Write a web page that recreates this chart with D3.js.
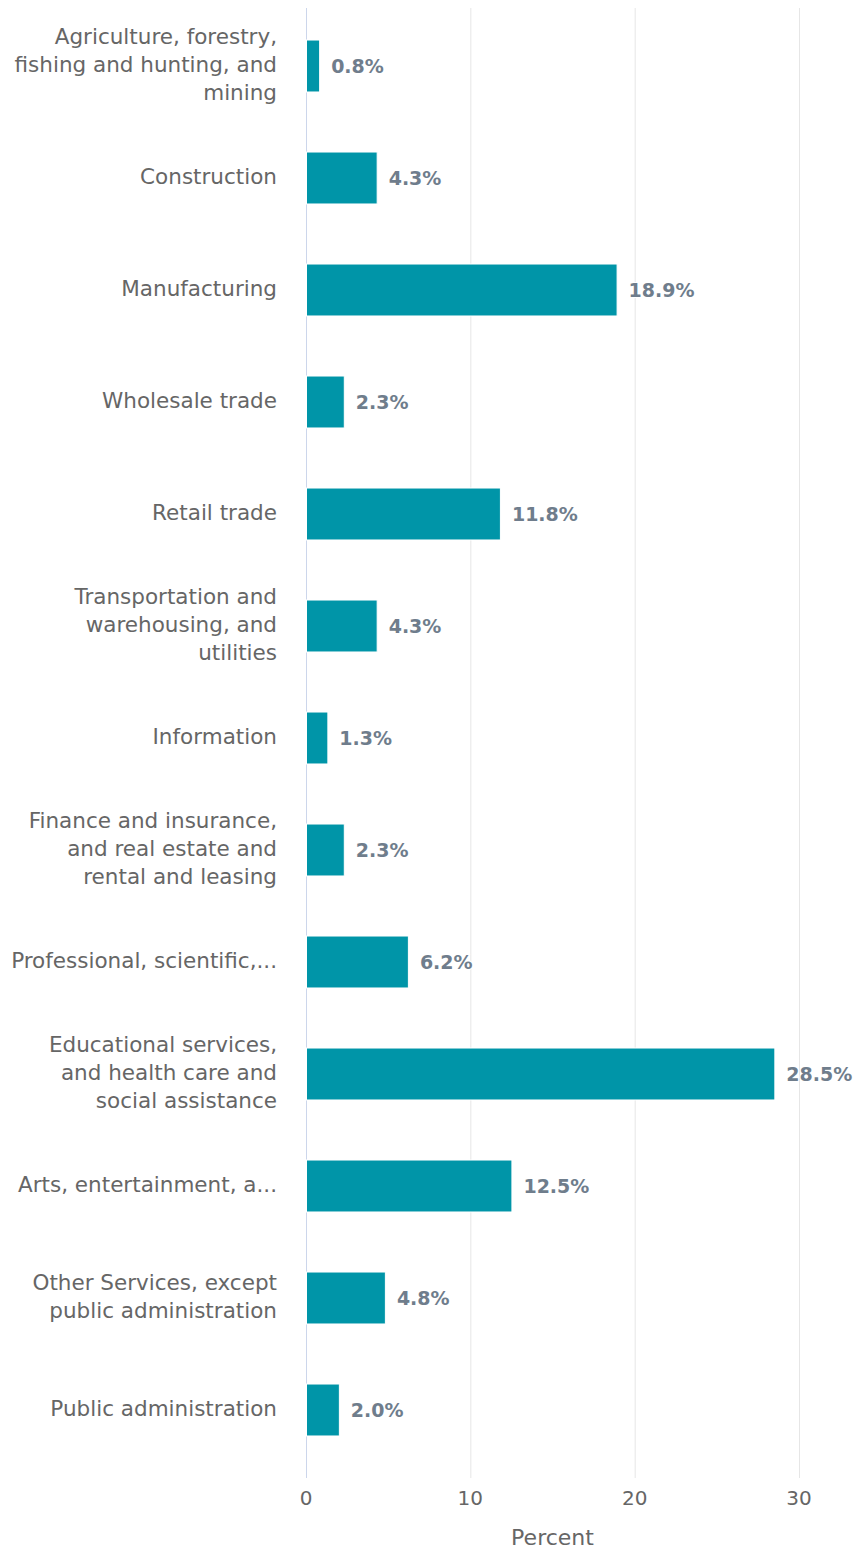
<!DOCTYPE html>
<html>
<head>
<meta charset="utf-8">
<script src="https://cdn.jsdelivr.net/npm/d3@7"></script>
<style>
  html, body { margin: 0; padding: 0; background: #ffffff; }
  svg { display: block; font-family: "DejaVu Sans", Verdana, sans-serif; }
</style>
</head>
<body>
<svg id="chart" width="856" height="1551"></svg>
<script>
// Share of employment by industry (percent)
const categories = [
  "Agriculture, forestry, fishing and hunting, and mining",
  "Construction",
  "Manufacturing",
  "Wholesale trade",
  "Retail trade",
  "Transportation and warehousing, and utilities",
  "Information",
  "Finance and insurance, and real estate and rental and leasing",
  "Professional, scientific,...",
  "Educational services, and health care and social assistance",
  "Arts, entertainment, a...",
  "Other Services, except public administration",
  "Public administration"
];

// Category labels as they are wrapped on the axis
const categoryLines = [
  ["Agriculture, forestry,", "fishing and hunting, and", "mining"],
  ["Construction"],
  ["Manufacturing"],
  ["Wholesale trade"],
  ["Retail trade"],
  ["Transportation and", "warehousing, and", "utilities"],
  ["Information"],
  ["Finance and insurance,", "and real estate and", "rental and leasing"],
  ["Professional, scientific,..."],
  ["Educational services,", "and health care and", "social assistance"],
  ["Arts, entertainment, a..."],
  ["Other Services, except", "public administration"],
  ["Public administration"]
];

const values = [0.8, 4.3, 18.9, 2.3, 11.8, 4.3, 1.3, 2.3, 6.2, 28.5, 12.5, 4.8, 2.0];

const xTicks = [0, 10, 20, 30];
const xTitle = "Percent";

const svg = d3.select("#chart");

const plot = { left: 306, right: 799, top: 10, bottom: 1466 };

const x = d3.scaleLinear().domain([0, 30]).range([plot.left, plot.right]);
const y = d3.scaleBand()
  .domain(categories)
  .range([plot.top, plot.bottom])
  .paddingInner(0.536)
  .paddingOuter(0.268);

// Vertical gridlines
svg.append("g")
  .selectAll("line")
  .data(xTicks.filter(d => d !== 0))
  .join("line")
  .attr("x1", d => x(d) + 0.5)
  .attr("x2", d => x(d) + 0.5)
  .attr("y1", plot.top - 2)
  .attr("y2", plot.bottom + 12)
  .attr("stroke", "#e6e6e6")
  .attr("stroke-width", 1);

// Category axis line
svg.append("line")
  .attr("x1", x(0) + 0.5)
  .attr("x2", x(0) + 0.5)
  .attr("y1", plot.top - 2)
  .attr("y2", plot.bottom + 12)
  .attr("stroke", "#ccd6eb")
  .attr("stroke-width", 1);

// Bars
svg.append("g")
  .selectAll("rect")
  .data(values)
  .join("rect")
  .attr("x", x(0) + 0.5)
  .attr("y", (d, i) => y(categories[i]))
  .attr("width", d => x(d) - x(0))
  .attr("height", y.bandwidth())
  .attr("fill", "#0095a8")
  .attr("stroke", "#ffffff")
  .attr("stroke-width", 1);

// Value labels
svg.append("g")
  .selectAll("text")
  .data(values)
  .join("text")
  .attr("x", d => x(d) + 12)
  .attr("y", (d, i) => y(categories[i]) + y.bandwidth() / 2)
  .attr("dy", "0.35em")
  .attr("font-size", 19)
  .attr("font-weight", "bold")
  .attr("fill", "#6f7d8c")
  .attr("stroke", "#ffffff")
  .attr("stroke-width", 2)
  .attr("paint-order", "stroke")
  .text(d => d.toFixed(1) + "%");

// Category labels
const lineH = 28;
const labelSize = 21.5;
const labels = svg.append("g")
  .selectAll("text")
  .data(categoryLines)
  .join("text")
  .attr("text-anchor", "end")
  .attr("font-size", labelSize)
  .attr("fill", "#666666")
  .attr("x", 277)
  .attr("y", (d, i) => y(categories[i]) + y.bandwidth() / 2);

labels.each(function(lines) {
  const t = d3.select(this);
  const y0 = -(lines.length - 1) / 2 * lineH;
  lines.forEach((ln, j) => {
    t.append("tspan")
      .attr("x", 277)
      .attr("dy", j === 0 ? (y0 / labelSize + 0.3) + "em" : lineH + "px")
      .text(ln);
  });
});

// Value axis tick labels
svg.append("g")
  .selectAll("text")
  .data(xTicks)
  .join("text")
  .attr("x", d => x(d))
  .attr("y", 1505)
  .attr("text-anchor", "middle")
  .attr("font-size", 20)
  .attr("fill", "#666666")
  .text(d => d);

// Axis title
svg.append("text")
  .attr("x", (plot.left + plot.right) / 2)
  .attr("y", 1545)
  .attr("text-anchor", "middle")
  .attr("font-size", 22)
  .attr("fill", "#666666")
  .text(xTitle);
</script>
</body>
</html>
